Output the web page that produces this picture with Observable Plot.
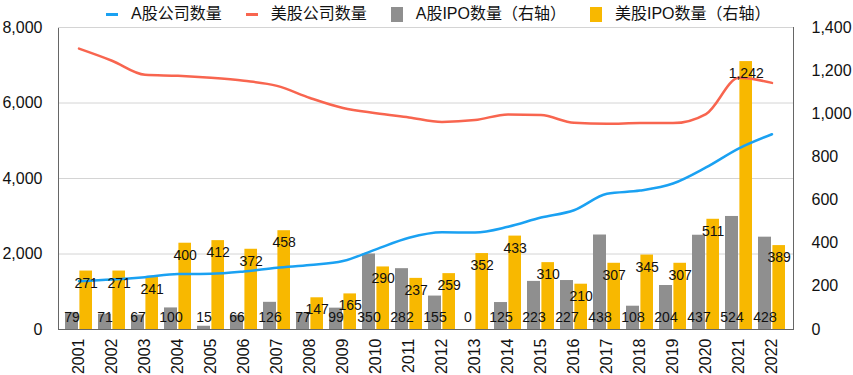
<!DOCTYPE html>
<html>
<head>
<meta charset="utf-8">
<script src="https://cdn.jsdelivr.net/npm/d3@7"></script>
<script src="https://cdn.jsdelivr.net/npm/@observablehq/plot@0.6"></script>
<style>
  body { margin: 0; background: #fff; font-family: "Liberation Sans", "Noto Sans CJK SC", sans-serif; }
  #legend { height: 16px; line-height: 16px; display: flex; align-items: center; padding-left: 106px; font-size: 16px; color: #111; position: relative; top: 6px; z-index: 1; }
  .item { display: flex; align-items: center; margin-right: 24px; }
  .line { width: 12px; height: 3px; margin-right: 13px; }
  .sq { width: 12px; height: 15px; margin-right: 13px; }
  #chart svg { overflow: visible; }
</style>
</head>
<body>
<div id="legend"></div>
<div id="chart"></div>
<script>
const years = ["2001","2002","2003","2004","2005","2006","2007","2008","2009","2010","2011","2012","2013","2014","2015","2016","2017","2018","2019","2020","2021","2022"];
const aCompanies = [1280,1325,1387,1467,1476,1538,1636,1707,1813,2124,2430,2575,2570,2720,2965,3160,3595,3680,3867,4293,4800,5173];
const usCompanies = [7440,7120,6747,6720,6667,6587,6453,6133,5867,5730,5618,5500,5547,5698,5680,5475,5449,5467,5467,5707,6667,6533];
const aIPO = [79,71,67,100,15,66,126,77,99,350,282,155,0,125,223,227,438,108,204,437,524,428];
const usIPO = [271,271,241,400,412,372,458,147,165,290,237,259,352,433,310,210,307,345,307,511,1242,389];
const leftTicks = [0,2000,4000,6000,8000];
const rightTicks = [0,200,400,600,800,1000,1200,1400];
const seriesNames = ["A股公司数量","美股公司数量","A股IPO数量（右轴）","美股IPO数量（右轴）"];
const colors = ["#1aa1f2","#f8654f","#8f8f8f","#f8b800"];

const LEFT_MAX = 8000, RIGHT_MAX = 1400;
const k = LEFT_MAX / RIGHT_MAX;
const fmt = d3.format(",");

const rows = years.map((y, i) => ({year: y, a: aCompanies[i], us: usCompanies[i], aIPO: aIPO[i], usIPO: usIPO[i]}));

// legend
const legend = document.getElementById("legend");
seriesNames.forEach((name, i) => {
  const it = document.createElement("div");
  it.className = "item";
  const sw = document.createElement("span");
  sw.className = i < 2 ? "line" : "sq";
  sw.style.background = colors[i];
  const t = document.createElement("span");
  t.textContent = name;
  it.append(sw, t);
  legend.append(it);
});

const chart = Plot.plot({
  width: 853,
  height: 359,
  marginTop: 11,
  marginBottom: 46,
  marginLeft: 58,
  marginRight: 60,
  style: {fontFamily: "'Liberation Sans', 'Noto Sans CJK SC', sans-serif", fontSize: "16px", color: "#111", background: "#fff", overflow: "visible"},
  x: {type: "band", domain: years, paddingInner: 0.175, paddingOuter: 0.08, label: null},
  y: {domain: [0, LEFT_MAX], label: null},
  marks: [
    Plot.gridY(leftTicks, {stroke: "#d4d4d4", strokeOpacity: 1}),
    Plot.frame({stroke: "#666"}),
    Plot.ruleY([LEFT_MAX], {stroke: "#d4d4d4"}),
    Plot.barY(rows, {x: "year", y: d => d.aIPO * k, fill: colors[2], insetRight: 14}),
    Plot.barY(rows, {x: "year", y: d => d.usIPO * k, fill: colors[3], insetLeft: 14.4}),
    Plot.line(rows, {x: "year", y: "a", stroke: colors[0], strokeWidth: 2.5, curve: "monotone-x"}),
    Plot.line(rows, {x: "year", y: "us", stroke: colors[1], strokeWidth: 2.5, curve: "monotone-x"}),
    Plot.text(rows, {x: "year", y: 0, text: d => fmt(d.aIPO), dx: -7, dy: -12, fontSize: 14, fill: "#111"}),
    Plot.text(rows, {x: "year", y: d => d.usIPO * k, text: d => fmt(d.usIPO), dx: 7.2, dy: 12, fontSize: 14, fill: "#111"}),
    Plot.axisY(leftTicks, {anchor: "left", tickSize: 0, tickPadding: 16, tickFormat: fmt, label: null, fontSize: 16}),
    Plot.axisY(rightTicks.map(v => v * k), {anchor: "right", tickSize: 0, tickPadding: 18, tickFormat: v => fmt(Math.round(v / k)), label: null, fontSize: 16}),
    Plot.axisX({tickSize: 0, tickPadding: 9, tickRotate: -90, label: null, fontSize: 16})
  ]
});
document.getElementById("chart").append(chart);
</script>
</body>
</html>
